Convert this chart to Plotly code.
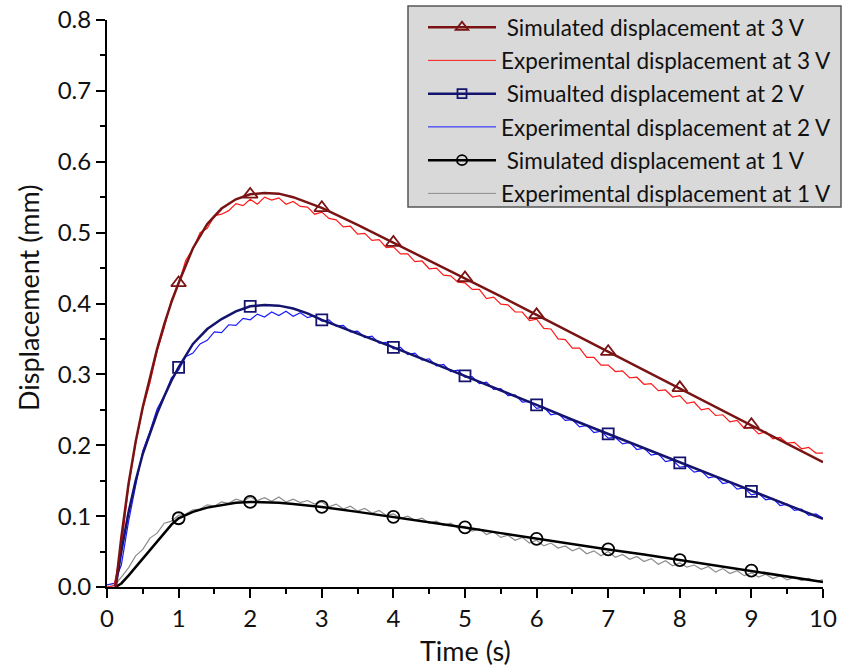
import plotly.graph_objects as go

# ---------------- data ----------------
exp_t = [i / 10 for i in range(101)]

exp_3v = [
    0.000, 0.002, 0.055, 0.142, 0.203, 0.252, 0.288, 0.333, 0.366, 0.405,
    0.428, 0.461, 0.477, 0.500, 0.506, 0.524, 0.526, 0.531, 0.541, 0.538,
    0.547, 0.540, 0.550, 0.546, 0.549, 0.540, 0.544, 0.537, 0.536, 0.526,
    0.529, 0.520, 0.518, 0.508, 0.509, 0.498, 0.499, 0.489, 0.490, 0.479,
    0.480, 0.470, 0.470, 0.459, 0.460, 0.449, 0.450, 0.440, 0.439, 0.430,
    0.429, 0.420, 0.420, 0.407, 0.409, 0.399, 0.398, 0.388, 0.388, 0.376,
    0.378, 0.365, 0.364, 0.350, 0.349, 0.337, 0.337, 0.324, 0.324, 0.313,
    0.313, 0.304, 0.305, 0.295, 0.296, 0.286, 0.287, 0.277, 0.278, 0.268,
    0.270, 0.259, 0.261, 0.250, 0.252, 0.242, 0.243, 0.233, 0.235, 0.224,
    0.226, 0.216, 0.219, 0.209, 0.211, 0.203, 0.204, 0.195, 0.197, 0.189,
    0.189,
]

exp_2v = [
    0.003, 0.005, 0.031, 0.092, 0.143, 0.192, 0.220, 0.251, 0.270, 0.295,
    0.306, 0.325, 0.330, 0.343, 0.348, 0.360, 0.359, 0.370, 0.369, 0.379,
    0.377, 0.385, 0.381, 0.388, 0.383, 0.389, 0.382, 0.387, 0.380, 0.383,
    0.375, 0.377, 0.368, 0.369, 0.360, 0.361, 0.352, 0.354, 0.344, 0.345,
    0.336, 0.338, 0.328, 0.330, 0.320, 0.322, 0.312, 0.314, 0.304, 0.306,
    0.296, 0.297, 0.287, 0.289, 0.279, 0.280, 0.270, 0.271, 0.261, 0.262,
    0.252, 0.254, 0.243, 0.245, 0.235, 0.236, 0.226, 0.228, 0.218, 0.220,
    0.210, 0.211, 0.202, 0.204, 0.194, 0.196, 0.186, 0.188, 0.177, 0.179,
    0.169, 0.171, 0.162, 0.164, 0.154, 0.156, 0.146, 0.148, 0.138, 0.140,
    0.130, 0.132, 0.123, 0.125, 0.115, 0.117, 0.108, 0.110, 0.101, 0.103,
    0.097,
]

exp_1v = [
    0.000, 0.002, 0.014, 0.027, 0.044, 0.053, 0.069, 0.076, 0.090, 0.093,
    0.101, 0.103, 0.109, 0.110, 0.116, 0.114, 0.120, 0.118, 0.124, 0.121,
    0.127, 0.122, 0.126, 0.121, 0.127, 0.120, 0.124, 0.119, 0.122, 0.117,
    0.120, 0.113, 0.117, 0.110, 0.114, 0.107, 0.111, 0.104, 0.108, 0.101,
    0.103, 0.097, 0.100, 0.094, 0.097, 0.090, 0.093, 0.087, 0.090, 0.083,
    0.085, 0.079, 0.082, 0.074, 0.078, 0.070, 0.073, 0.066, 0.070, 0.062,
    0.066, 0.058, 0.062, 0.055, 0.058, 0.051, 0.055, 0.047, 0.051, 0.044,
    0.050, 0.042, 0.046, 0.039, 0.043, 0.036, 0.040, 0.032, 0.037, 0.030,
    0.034, 0.028, 0.031, 0.025, 0.029, 0.021, 0.026, 0.019, 0.023, 0.016,
    0.020, 0.014, 0.018, 0.012, 0.016, 0.010, 0.014, 0.009, 0.012, 0.008,
    0.010,
]

sim_t = [0.12, 0.2, 0.3, 0.4, 0.5, 0.6, 0.7, 0.8, 0.9, 1.0,
         1.2, 1.4, 1.6, 1.8, 2.0, 2.2, 2.4, 2.6, 2.8, 3.0,
         3.5, 4.0, 4.5, 5.0, 5.5, 6.0, 6.5, 7.0, 7.5, 8.0,
         8.5, 9.0, 9.5, 10.0]

sim_3v = [0.000, 0.070, 0.145, 0.205, 0.254, 0.297, 0.336, 0.371, 0.402, 0.429,
          0.478, 0.512, 0.534, 0.547, 0.554, 0.556, 0.555, 0.550, 0.543, 0.535,
          0.511, 0.486, 0.461, 0.436, 0.410, 0.384, 0.358, 0.332, 0.306, 0.281,
          0.255, 0.229, 0.203, 0.176]

sim_2v = [0.000, 0.050, 0.105, 0.150, 0.188, 0.218, 0.245, 0.269, 0.291, 0.310,
          0.343, 0.364, 0.378, 0.389, 0.396, 0.398, 0.397, 0.393, 0.386, 0.377,
          0.358, 0.338, 0.318, 0.298, 0.277, 0.257, 0.236, 0.216, 0.195, 0.175,
          0.155, 0.135, 0.115, 0.096]

sim_1v = [0.000, 0.005, 0.016, 0.028, 0.040, 0.052, 0.064, 0.077, 0.088, 0.097,
          0.106, 0.112, 0.116, 0.119, 0.120, 0.120, 0.119, 0.117, 0.115, 0.113,
          0.106, 0.099, 0.092, 0.084, 0.076, 0.068, 0.061, 0.053, 0.046, 0.038,
          0.031, 0.023, 0.015, 0.007]

marker_times = [1, 2, 3, 4, 5, 6, 7, 8, 9]

names = [
    " Simulated displacement at 3 V",
    "Experimental displacement at 3 V",
    " Simualted displacement at 2 V",
    "Experimental displacement at 2 V",
    " Simulated displacement at 1 V",
    "Experimental displacement at 1 V",
]

x_ticks = [0, 1, 2, 3, 4, 5, 6, 7, 8, 9, 10]
y_ticks = [0.0, 0.1, 0.2, 0.3, 0.4, 0.5, 0.6, 0.7, 0.8]

# ---------------- styles ----------------
C3, C2, C1 = "#7a1414", "#14146e", "#000000"
E3, E2, E1 = "#ff1a1a", "#1a1aff", "#8c8c8c"
FONT = "Lato"

# plot-area pixel geometry (used to place legend box)
L, R, T, B = 107, 19, 20, 83
W, H = 842, 670
PW, PH = W - L - R, H - T - B
def px_x(p): return (p - L) / PW
def px_y(p): return (H - B - p) / PH

fig = go.Figure()

# experimental (drawn first)
for ys, col in [(exp_1v, E1), (exp_2v, E2), (exp_3v, E3)]:
    fig.add_trace(go.Scatter(x=exp_t, y=ys, mode="lines", showlegend=False,
                             line=dict(color=col, width=1.2), hoverinfo="skip"))

def pick(ts, vs):
    xs, ys = [], []
    for t, v in zip(ts, vs):
        if any(abs(t - m) < 1e-9 for m in marker_times):
            xs.append(t)
            ys.append(v)
    return xs, ys

sims = [(sim_1v, C1, "circle-open", 12),
        (sim_2v, C2, "square-open", 11),
        (sim_3v, C3, "triangle-up-open", 13)]
for ys, col, sym, sz in sims:
    fig.add_trace(go.Scatter(x=sim_t, y=ys, mode="lines", showlegend=False,
                             line=dict(color=col, width=2.5), hoverinfo="skip"))
    mx, my = pick(sim_t, ys)
    fig.add_trace(go.Scatter(x=mx, y=my, mode="markers", showlegend=False,
                             marker=dict(symbol=sym, size=sz, color=col,
                                         line=dict(color=col, width=1.8)),
                             hoverinfo="skip"))

# legend-only entries
legend_styles = [
    (C3, 2.5, "triangle-up-open", 11, "lines+markers"),
    (E3, 1, None, 0, "lines"),
    (C2, 2.5, "square-open", 9, "lines+markers"),
    (E2, 1, None, 0, "lines"),
    (C1, 2.5, "circle-open", 10, "lines+markers"),
    (E1, 1, None, 0, "lines"),
]
for i, (nm, (col, w, sym, sz, mode)) in enumerate(zip(names, legend_styles)):
    kw = dict(x=[None], y=[None], mode=mode, name=nm, legendgroup=f"g{i}",
              line=dict(color=col, width=w))
    if sym:
        kw["marker"] = dict(symbol=sym, size=sz, color=col,
                            line=dict(color=col, width=1.8))
    fig.add_trace(go.Scatter(**kw))

axis_common = dict(
    showline=True, linecolor="black", linewidth=2,
    ticks="outside", ticklen=9, tickwidth=2, tickcolor="black",
    showgrid=False, zeroline=False, mirror=False,
    tickfont=dict(family=FONT, size=24, color="#111"),
)

fig.update_xaxes(range=[0, 10], tickmode="array", tickvals=x_ticks,
                 ticktext=[str(v) for v in x_ticks],
                 minor=dict(dtick=0.5, ticklen=5, tickwidth=2, ticks="outside",
                            tickcolor="black", showgrid=False),
                 **axis_common)
fig.update_yaxes(range=[0, 0.8], tickmode="array", tickvals=y_ticks,
                 ticktext=[f"{v:.1f}" for v in y_ticks],
                 minor=dict(dtick=0.05, ticklen=5, tickwidth=2, ticks="outside",
                            tickcolor="black", showgrid=False),
                 **axis_common)

fig.add_annotation(text="Time (s)", xref="paper", yref="paper",
                   x=0.501, y=px_y(650), showarrow=False, yanchor="middle",
                   font=dict(family=FONT, size=27, color="#111"))
fig.add_annotation(text="Displacement (mm)", xref="paper", yref="paper",
                   x=px_x(28), y=px_y(298), showarrow=False, textangle=-90,
                   xanchor="center", yanchor="middle",
                   font=dict(family=FONT, size=27, color="#111"))

# legend box
fig.add_shape(type="rect", xref="paper", yref="paper",
              x0=px_x(408), x1=px_x(841), y0=px_y(207), y1=px_y(6),
              fillcolor="#d9d9d9", line=dict(color="#555555", width=1.5),
              layer="above")

fig.update_layout(
    width=W, height=H,
    margin=dict(l=L, r=R, t=T, b=B, autoexpand=False),
    plot_bgcolor="white", paper_bgcolor="white",
    legend=dict(x=px_x(423), y=px_y(6), xanchor="left", yanchor="top",
                bgcolor="rgba(0,0,0,0)", borderwidth=0,
                font=dict(family=FONT, size=22.5, color="#111"),
                traceorder="grouped", tracegroupgap=1, itemwidth=68),
)

fig.write_html("out.html")
